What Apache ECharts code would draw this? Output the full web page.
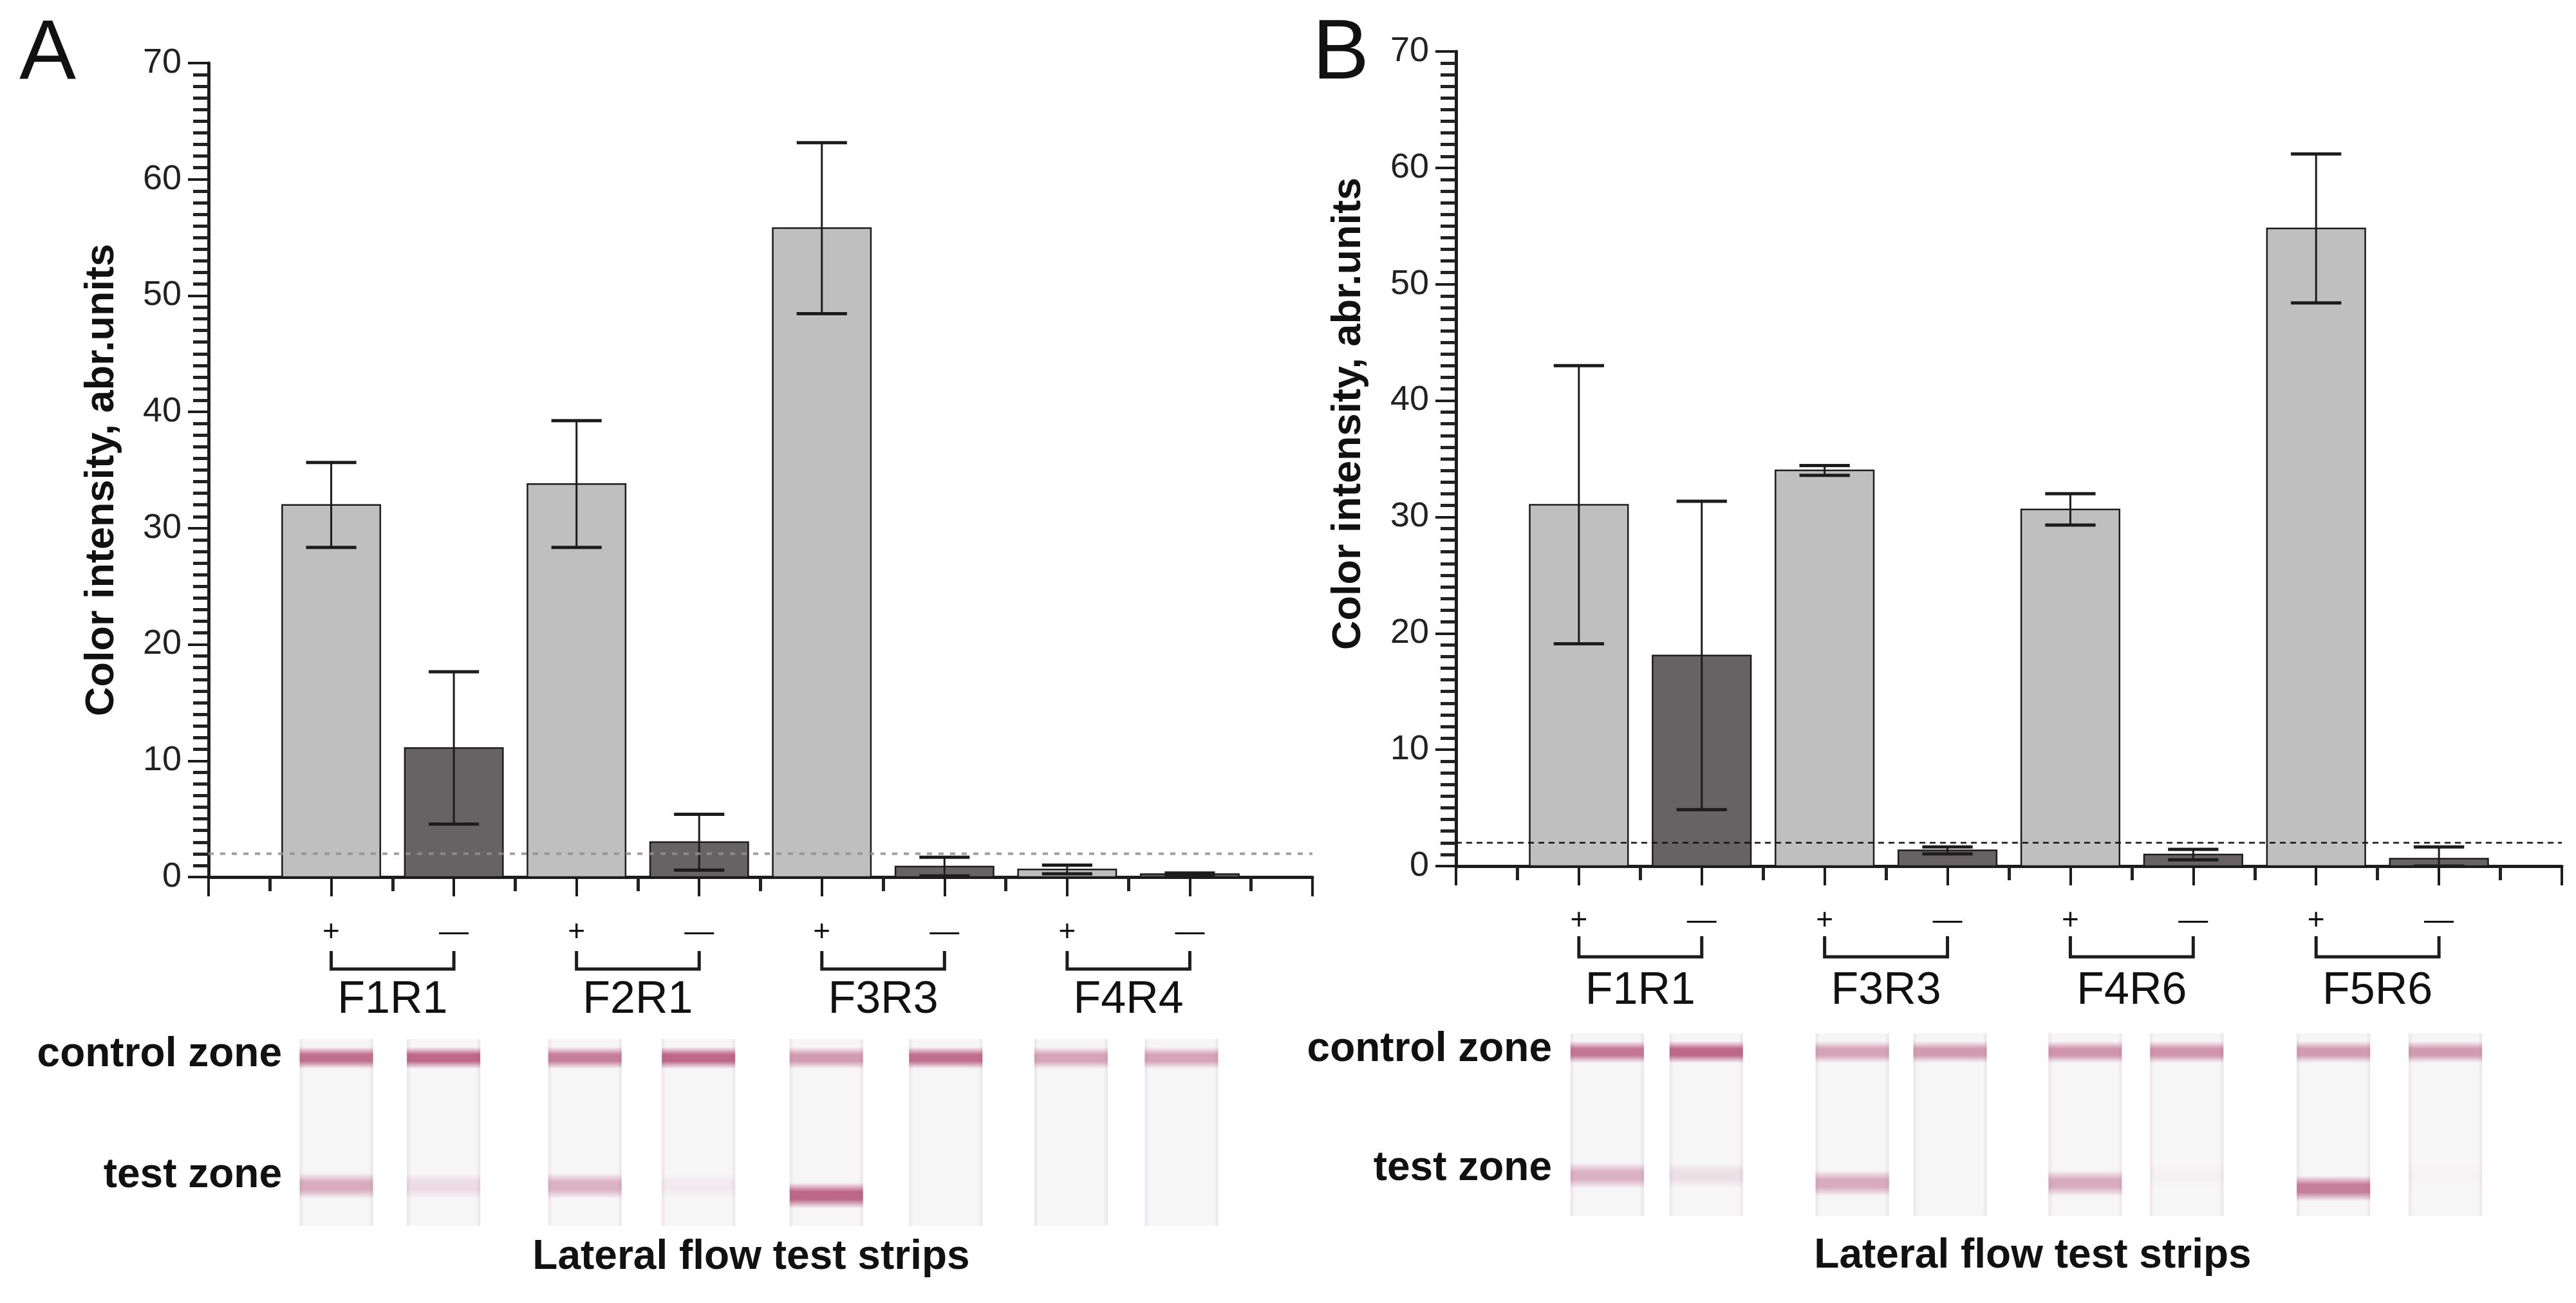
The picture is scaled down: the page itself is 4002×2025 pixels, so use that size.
<!DOCTYPE html>
<html>
<head>
<meta charset="utf-8">
<script src="https://cdn.jsdelivr.net/npm/echarts@6/dist/echarts.min.js"></script>
<style>
html,body{margin:0;padding:0;background:#fff;}
#chart{width:4002px;height:2025px;}
</style>
</head>
<body>
<div id="chart"></div>
<script>
// ---- data ----
var signs = ["+", "—", "+", "—", "+", "—", "+", "—"];
var pairsA = ["F1R1", "F2R1", "F3R3", "F4R4"];
var meanA = [32.0, 11.1, 33.8, 3.0, 55.8, 0.9, 0.65, 0.25];
var errA = [3.65, 6.55, 5.45, 2.4, 7.35, 0.8, 0.37, 0.1];
var pairsB = ["F1R1", "F3R3", "F4R6", "F5R6"];
var meanB = [31.05, 18.1, 34.0, 1.35, 30.65, 0.99, 54.8, 0.64];
var errB = [11.95, 13.25, 0.42, 0.3, 1.35, 0.45, 6.4, 1.0];
var cutoff = 2;
var yTicks = [0, 10, 20, 30, 40, 50, 60, 70];
// strip band intensities (0..1)
var ctrlA = [0.9, 0.95, 0.8, 0.95, 0.6, 0.9, 0.55, 0.55];
var testA = [0.5, 0.18, 0.45, 0.08, 0.95, 0, 0, 0];
var ctrlB = [0.85, 0.95, 0.55, 0.6, 0.65, 0.65, 0.6, 0.6];
var testB = [0.45, 0.15, 0.5, 0, 0.5, 0.03, 0.8, 0.02];

var FONT = "'Liberation Sans', Arial, sans-serif";
var INK = "#1c1c1c";
var LIGHT = "#bfbfbf", DARK = "#676365";
var ROSE = "175,70,108";

function barData(mean) {
	return mean.map(function (v, i) { return [i + 1, v, i % 2]; });
}
function errData(mean, err) {
	return mean.map(function (v, i) { return [i + 1, Math.max(0, v - err[i]), v + err[i]]; });
}

function renderBar(params, api) {
	var x = api.value(0), v = api.value(1);
	var p0 = api.coord([x - 0.4, v]);
	var p1 = api.coord([x + 0.4, 0]);
	return {
		type: "rect",
		shape: { x: p0[0], y: p0[1], width: p1[0] - p0[0], height: p1[1] - p0[1] },
		style: { fill: api.value(2) ? DARK : LIGHT, stroke: INK, lineWidth: 2.5 }
	};
}
function renderErr(params, api) {
	var x = api.value(0);
	var lo = api.coord([x, api.value(1)]);
	var hi = api.coord([x, api.value(2)]);
	var half = api.size([0.205, 0])[0];
	return {
		type: "group",
		children: [
			{ type: "line", shape: { x1: hi[0], y1: hi[1], x2: lo[0], y2: lo[1] }, style: { stroke: INK, lineWidth: 3 } },
			{ type: "line", shape: { x1: hi[0] - half, y1: hi[1], x2: hi[0] + half, y2: hi[1] }, style: { stroke: INK, lineWidth: 5 } },
			{ type: "line", shape: { x1: lo[0] - half, y1: lo[1], x2: lo[0] + half, y2: lo[1] }, style: { stroke: INK, lineWidth: 5 } }
		]
	};
}

function xAxisCfg(gi) {
	return {
		type: "value", gridIndex: gi, min: 0, max: 9, interval: 1,
		axisLine: { onZero: false, lineStyle: { color: INK, width: 5 } },
		axisTick: { length: 30, lineStyle: { color: INK, width: 4 } },
		minorTick: { show: true, splitNumber: 2, length: 22, lineStyle: { color: "#222", width: 5 } },
		axisLabel: { show: false },
		splitLine: { show: false }
	};
}
function yAxisCfg(gi) {
	return {
		type: "value", gridIndex: gi, min: yTicks[0], max: yTicks[yTicks.length - 1], interval: 10,
		axisLine: { show: true, lineStyle: { color: INK, width: 5 } },
		axisTick: { length: 32, lineStyle: { color: INK, width: 4 } },
		minorTick: { show: true, splitNumber: 10, length: 24, lineStyle: { color: "#222", width: 5 } },
		axisLabel: { fontFamily: FONT, fontSize: 54, color: "#222", margin: 42 },
		splitLine: { show: false }
	};
}

var series = [];
[[meanA, errA], [meanB, errB]].forEach(function (d, gi) {
	series.push({ type: "custom", xAxisIndex: gi, yAxisIndex: gi, renderItem: renderBar, data: barData(d[0]), encode: { x: 0, y: 1 }, z: 2 });
	series.push({ type: "custom", xAxisIndex: gi, yAxisIndex: gi, renderItem: renderErr, data: errData(d[0], d[1]), encode: { x: 0, y: [1, 2] }, z: 3 });
});
series.push({ type: "line", xAxisIndex: 0, yAxisIndex: 0, data: [[0, cutoff], [9, cutoff]], symbol: "none", silent: true, z: 4,
	lineStyle: { color: "#8f8f8f", width: 4, type: [8, 10], opacity: 0.85 } });
series.push({ type: "line", xAxisIndex: 1, yAxisIndex: 1, data: [[0, cutoff], [9, cutoff]], symbol: "none", silent: true, z: 4,
	lineStyle: { color: "#111", width: 2.5, type: [9, 7] } });

var option = {
	backgroundColor: "#fff",
	animation: false,
	grid: [
		{ left: 324, top: 98, width: 1715, height: 1265 },
		{ left: 2262, top: 80, width: 1718, height: 1266 }
	],
	xAxis: [xAxisCfg(0), xAxisCfg(1)],
	yAxis: [yAxisCfg(0), yAxisCfg(1)],
	series: series
};

var chart = echarts.init(document.getElementById("chart"), null, { renderer: "canvas", width: 4002, height: 2025 });
chart.setOption(option);

// ---- annotations under the axes ----
var panels = [
	{ gi: 0, letter: "A", letterX: 74, letterY: 87, titleX: 159, titleY: 746, pairs: pairsA, ctrl: ctrlA, test: testA,
		signY: 1449, brTop: 1478, brBot: 1506, grpY: 1555, stripTop: 1615, stripH: 290, ctrlOff: 29, testOff: 228,
		shift: [8, -16, 13, -1, 7, 2, 6, -13], testShift: [0, 0, 0, 0, 15, 0, 0, 0],
		zoneRight: 438, ctrlY: 1639, testY: 1827, latX: 1167, latY: 1954 },
	{ gi: 1, letter: "B", letterX: 2083, letterY: 86, titleX: 2096, titleY: 643, pairs: pairsB, ctrl: ctrlB, test: testB,
		signY: 1431, brTop: 1455, brBot: 1487, grpY: 1541, stripTop: 1606, stripH: 284, ctrlOff: 29, testOff: 221,
		shift: [44, 7, 43, 4, 23, -10, 27, 10], testShift: [0, 0, 12, 0, 12, 0, 20, 0],
		zoneRight: 2411, ctrlY: 1631, testY: 1816, latX: 3158, latY: 1952 }
];

function txt(x, y, s, size, weight, align, rot) {
	return {
		type: "text", x: x, y: y, rotation: rot || 0, silent: true,
		style: { text: s, fontFamily: FONT, fontSize: size, fontWeight: weight || "normal", fill: "#111",
			align: align || "center", verticalAlign: "middle" }
	};
}
function band(cx, cy, w, h, a) {
	return {
		type: "rect", silent: true,
		shape: { x: cx - w / 2, y: cy - h / 2, width: w, height: h },
		style: {
			fill: new echarts.graphic.LinearGradient(0, 0, 0, 1, [
				{ offset: 0, color: "rgba(" + ROSE + ",0)" },
				{ offset: 0.35, color: "rgba(" + ROSE + "," + (a * 0.85) + ")" },
				{ offset: 0.65, color: "rgba(" + ROSE + "," + (a * 0.85) + ")" },
				{ offset: 1, color: "rgba(" + ROSE + ",0)" }
			])
		}
	};
}

var graphics = [];
panels.forEach(function (p) {
	graphics.push(txt(p.letterX, p.letterY, p.letter, 132));
	graphics.push(txt(p.titleX, p.titleY, "Color intensity, abr.units", 63, "bold", "center", Math.PI / 2));
	for (var i = 0; i < 8; i++) {
		var x = chart.convertToPixel({ gridIndex: p.gi }, [i + 1, 0])[0];
		graphics.push(txt(x, p.signY, signs[i], 46));
		// strip photo stand-in
		var sx = x + p.shift[i], w = 114;
		graphics.push({
			type: "rect", silent: true,
			shape: { x: sx - w / 2, y: p.stripTop, width: w, height: p.stripH },
			style: {
				fill: new echarts.graphic.LinearGradient(0, 0, 1, 0, [
					{ offset: 0, color: "#ebe3e8" }, { offset: 0.06, color: "#f7f6f7" },
					{ offset: 0.94, color: "#f7f6f7" }, { offset: 1, color: "#ebe3e8" }
				])
			}
		});
		graphics.push(band(sx, p.stripTop + p.ctrlOff, w, 34, p.ctrl[i]));
		if (p.test[i] > 0) graphics.push(band(sx, p.stripTop + p.testOff + p.testShift[i], w, 40, p.test[i]));
	}
	p.pairs.forEach(function (name, k) {
		var x1 = chart.convertToPixel({ gridIndex: p.gi }, [2 * k + 1, 0])[0];
		var x2 = chart.convertToPixel({ gridIndex: p.gi }, [2 * k + 2, 0])[0];
		graphics.push({
			type: "polyline", silent: true,
			shape: { points: [[x1, p.brTop], [x1, p.brBot], [x2, p.brBot], [x2, p.brTop]] },
			style: { stroke: INK, lineWidth: 5, fill: null }
		});
		graphics.push(txt((x1 + x2) / 2, p.grpY, name, 70));
	});
	graphics.push(txt(p.zoneRight, p.ctrlY, "control zone", 64, "bold", "right"));
	graphics.push(txt(p.zoneRight, p.testY, "test zone", 64, "bold", "right"));
	graphics.push(txt(p.latX, p.latY, "Lateral flow test strips", 64, "bold", "center"));
});
chart.setOption({ graphic: graphics });
</script>
</body>
</html>
